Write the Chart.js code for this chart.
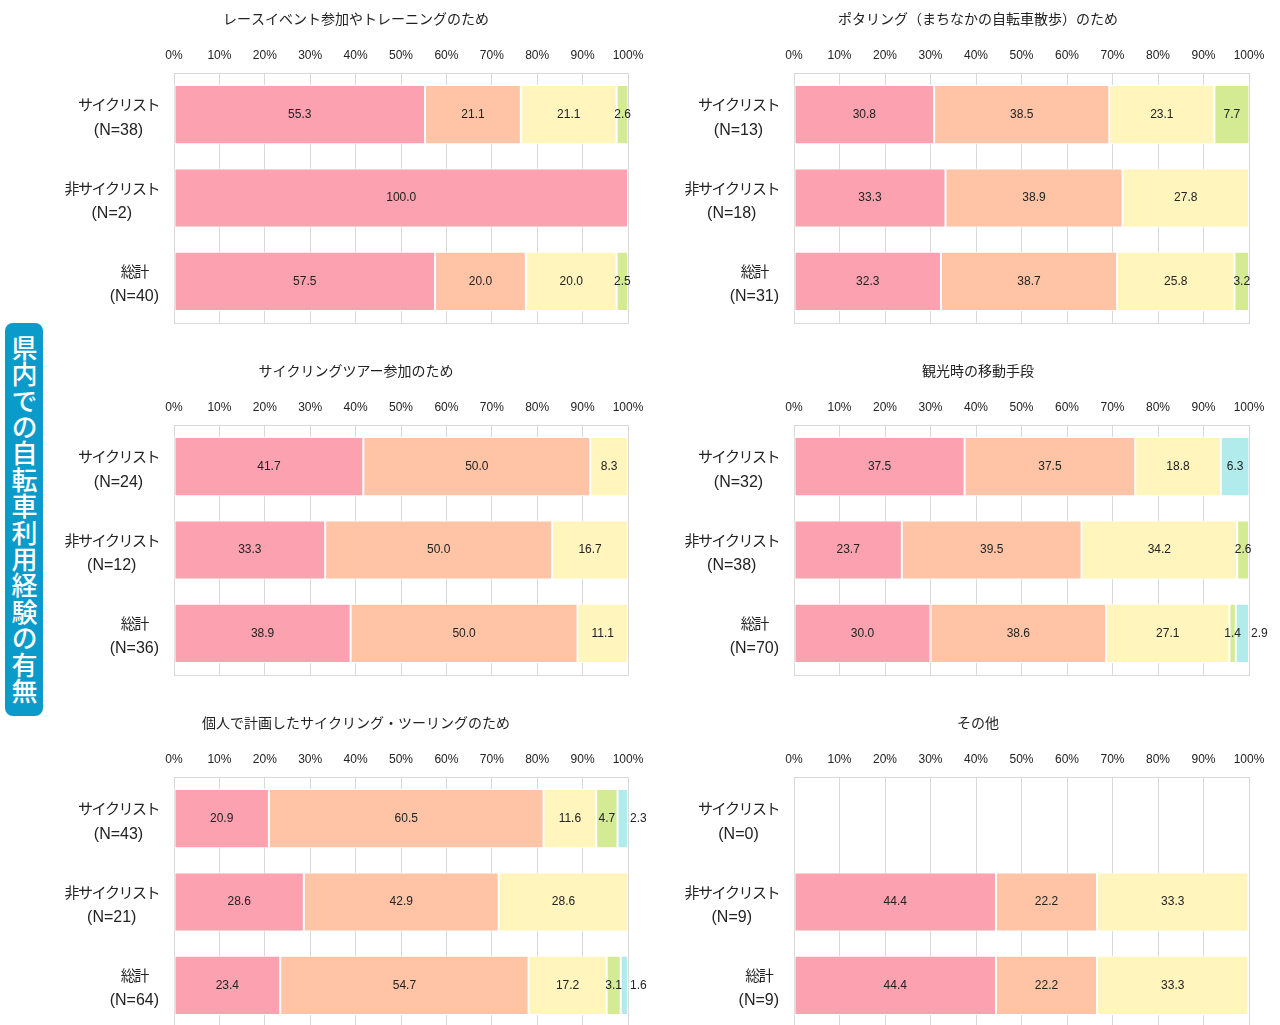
<!DOCTYPE html>
<html>
<head>
<meta charset="utf-8">
<script src="https://cdn.jsdelivr.net/npm/chart.js@4.4.1/dist/chart.umd.min.js"></script>
<style>
body { margin: 0; background: #fff; width: 1280px; height: 1025px; position: relative; overflow: hidden; }
canvas { position: absolute; }
#side {
    position: absolute; left: 5px; top: 323px; width: 38px; height: 393px;
    background: #0a9bcb; border-radius: 8px; color: #fff;
    font: 500 26px 'Noto Sans CJK JP', sans-serif; letter-spacing: 0.4px;
    writing-mode: vertical-rl; text-align: center; line-height: 38px;
}
</style>
</head>
<body>
<div id="side">県内での自転車利用経験の有無</div>
<canvas id="c1" width="622" height="340" style="left:45px;top:0px"></canvas>
<canvas id="c2" width="604" height="340" style="left:676px;top:0px"></canvas>
<canvas id="c3" width="622" height="340" style="left:45px;top:352px"></canvas>
<canvas id="c4" width="604" height="340" style="left:676px;top:352px"></canvas>
<canvas id="c5" width="622" height="340" style="left:45px;top:704px"></canvas>
<canvas id="c6" width="604" height="340" style="left:676px;top:704px"></canvas>
<script>
const rowNames = ['サイクリスト', '非サイクリスト', '総計'];
const seriesColors = ['#fba1b0', '#ffc4a5', '#fff5bd', '#d4eb94', '#b2ebeb'];
const tickLabels = ['0%', '10%', '20%', '30%', '40%', '50%', '60%', '70%', '80%', '90%', '100%'];

// values per row: [サイクリスト, 非サイクリスト, 総計], 5 segments each
const raceTitle = 'レースイベント参加やトレーニングのため';
const raceN = [38, 2, 40];
const raceValues = [[55.3, 21.1, 21.1, 2.6, null], [100.0, null, null, null, null], [57.5, 20.0, 20.0, 2.5, null]];

const potaTitle = 'ポタリング（まちなかの自転車散歩）のため';
const potaN = [13, 18, 31];
const potaValues = [[30.8, 38.5, 23.1, 7.7, null], [33.3, 38.9, 27.8, null, null], [32.3, 38.7, 25.8, 3.2, null]];

const tourTitle = 'サイクリングツアー参加のため';
const tourN = [24, 12, 36];
const tourValues = [[41.7, 50.0, 8.3, null, null], [33.3, 50.0, 16.7, null, null], [38.9, 50.0, 11.1, null, null]];

const sightTitle = '観光時の移動手段';
const sightN = [32, 38, 70];
const sightValues = [[37.5, 37.5, 18.8, null, 6.3], [23.7, 39.5, 34.2, 2.6, null], [30.0, 38.6, 27.1, 1.4, 2.9]];

const ownTitle = '個人で計画したサイクリング・ツーリングのため';
const ownN = [43, 21, 64];
const ownValues = [[20.9, 60.5, 11.6, 4.7, 2.3], [28.6, 42.9, 28.6, null, null], [23.4, 54.7, 17.2, 3.1, 1.6]];

const otherTitle = 'その他';
const otherN = [0, 9, 9];
const otherValues = [[null, null, null, null, null], [44.4, 22.2, 33.3, null, null], [44.4, 22.2, 33.3, null, null]];

const NUM_FONT = "'Liberation Sans Narrow', 'Liberation Sans', sans-serif";
const JP_FONT = "'Noto Sans CJK JP', sans-serif";

const extras = {
    id: 'extras',
    beforeDatasetsDraw(chart) {
        const a = chart.chartArea;
        const ctx = chart.ctx;
        ctx.save();
        ctx.strokeStyle = '#d9d9d9';
        ctx.lineWidth = 1;
        ctx.strokeRect(a.left + 0.5, a.top + 0.5, a.right - a.left, a.bottom - a.top);
        ctx.restore();
    },
    afterDatasetsDraw(chart) {
        const ctx = chart.ctx;
        const opts = chart.options.plugins.extras;
        ctx.save();
        ctx.fillStyle = '#222';
        ctx.textBaseline = 'middle';

        // title, centred on the canvas
        ctx.font = '14px ' + JP_FONT;
        ctx.textAlign = 'center';
        ctx.fillText(opts.title, chart.width / 2, 19);

        ctx.font = '12px ' + NUM_FONT;
        chart.data.datasets.forEach((ds, i) => {
            const meta = chart.getDatasetMeta(i);
            meta.data.forEach((bar, j) => {
                const v = ds.data[j];
                if (v == null) return;
                const txt = v.toFixed(1);
                if (i === 4 && v < 5) {
                    ctx.textAlign = 'left';
                    ctx.fillText(txt, bar.x + 2, bar.y);
                } else {
                    ctx.textAlign = 'center';
                    ctx.fillText(txt, (bar.x + bar.base) / 2, bar.y);
                }
            });
        });

        // category labels
        const y = chart.scales.y;
        rowNames.forEach((name, j) => {
            const yc = y.getPixelForValue(j);
            const nTxt = '(N=' + opts.counts[j] + ')';
            ctx.font = '15px ' + JP_FONT;
            ctx.letterSpacing = '-1.5px';
            const w1 = ctx.measureText(name).width;
            ctx.letterSpacing = '0px';
            ctx.font = '16px ' + NUM_FONT;
            const w2 = ctx.measureText(nTxt).width;
            const cx = chart.chartArea.left - 15 - Math.max(w1, w2) / 2;
            ctx.textAlign = 'center';
            ctx.fillText(nTxt, cx, yc + 15.5);
            ctx.font = '15px ' + JP_FONT;
            ctx.letterSpacing = '-1.5px';
            ctx.fillText(name, cx, yc - 10);
            ctx.letterSpacing = '0px';
        });
        ctx.restore();
    }
};

function makeChart(id, title, counts, values, yWidth, rightPad) {
    const datasets = seriesColors.map((color, s) => ({
        label: '回答' + (s + 1),
        data: values.map(row => row[s]),
        backgroundColor: color,
        borderColor: '#fff',
        borderWidth: 1,
        borderSkipped: false,
        barPercentage: 0.71,
        categoryPercentage: 1
    }));
    return new Chart(document.getElementById(id), {
        type: 'bar',
        data: { labels: rowNames, datasets: datasets },
        plugins: [extras],
        options: {
            indexAxis: 'y',
            responsive: false,
            animation: false,
            layout: { padding: { left: 0, right: rightPad, top: 43, bottom: 17 } },
            plugins: {
                legend: { display: false },
                tooltip: { enabled: false },
                title: { display: false },
                extras: { counts: counts, title: title }
            },
            scales: {
                x: {
                    position: 'top',
                    stacked: true,
                    min: 0,
                    max: 100,
                    ticks: {
                        stepSize: 10,
                        color: '#222',
                        padding: 10,
                        font: { family: NUM_FONT, size: 12 },
                        callback: (v, i) => tickLabels[i]
                    },
                    grid: { color: '#d9d9d9', drawTicks: false },
                    border: { color: '#d9d9d9' },
                    afterFit: s => { s.height = 30; }
                },
                y: {
                    stacked: true,
                    ticks: { display: false },
                    grid: { display: false },
                    border: { color: '#d9d9d9' },
                    afterFit: s => { s.width = yWidth; }
                }
            }
        }
    });
}

makeChart('c1', raceTitle, raceN, raceValues, 129, 39);
makeChart('c2', potaTitle, potaN, potaValues, 118, 31);
makeChart('c3', tourTitle, tourN, tourValues, 129, 39);
makeChart('c4', sightTitle, sightN, sightValues, 118, 31);
makeChart('c5', ownTitle, ownN, ownValues, 129, 39);
makeChart('c6', otherTitle, otherN, otherValues, 118, 31);
</script>
</body>
</html>
